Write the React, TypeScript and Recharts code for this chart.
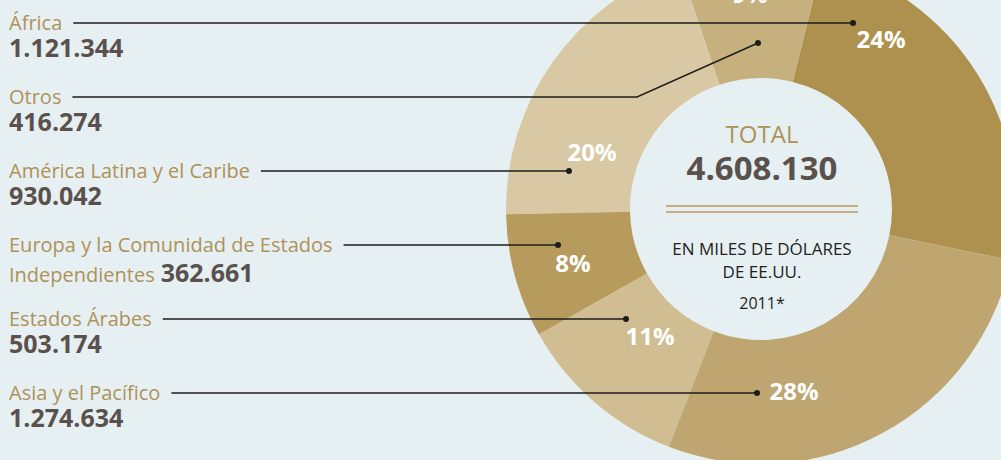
import React from 'react';
import { PieChart, Pie, Cell } from 'recharts';

// left list order, drawn counter-clockwise starting from Africa
const regionLines = [
  ['África'],
  ['Otros'],
  ['América Latina y el Caribe'],
  ['Europa y la Comunidad de Estados', 'Independientes'],
  ['Estados Árabes'],
  ['Asia y el Pacífico'],
];
const amounts = [1121344, 416274, 930042, 362661, 503174, 1274634];
const totalAmount = 4608130;
const sliceColors = ['#ae914e', '#c5b07e', '#d8c9a4', '#b69b5c', '#d0be92', '#bfa671'];

const centerTitle = 'TOTAL';
const centerNote = ['EN MILES DE DÓLARES', 'DE EE.UU.'];
const centerYear = '2011*';

const BG = '#e6eff2';
const GOLD = '#ae9258';
const DARK = '#5b514c';
const INK = '#1d1d1b';
const FONT = '"Open Sans", "Noto Sans", sans-serif';

const CX = 761;
const CY = 209;
const rowTop = 23;
const rowGap = 74;

// callout placement, offsets from the pie centre
const callouts = [
  { dx: 92, pct: [120, -170] },
  { dx: -3, dy: -166, bend: -124, pct: [-11, -215] },
  { dx: -192, pct: [-169, -57] },
  { dx: -203, pct: [-188, 54] },
  { dx: -135, pct: [-111, 127] },
  { dx: -4, pct: [33, 182] },
];

const fmt = (n: number) => String(n).replace(/\B(?=(\d{3})+(?!\d))/g, '.');

let ctx: CanvasRenderingContext2D | null = null;
const textWidth = (s: string, size: number) => {
  if (!ctx) ctx = document.createElement('canvas').getContext('2d');
  if (!ctx) return s.length * size * 0.5;
  ctx.font = `${size}px ${FONT}`;
  return ctx.measureText(s).width;
};

const data = amounts.map((v, i) => ({ name: regionLines[i].join(' '), value: v }));

const renderLabel = (props: any) => {
  const { cx, cy, index, percent } = props;
  const c = callouts[index];
  const rowY = rowTop + index * rowGap;
  const dotX = cx + c.dx;
  const dotY = c.dy !== undefined ? cy + c.dy : rowY;
  const bendX = c.bend !== undefined ? cx + c.bend : dotX;
  const lines = regionLines[index];
  const lineStart = 9 + textWidth(lines[0], 20) + 11;

  return (
    <g key={`lbl-${index}`} fontFamily={FONT}>
      <polyline
        points={`${lineStart},${rowY} ${bendX},${rowY} ${dotX},${dotY}`}
        fill="none"
        stroke={INK}
        strokeWidth={1.4}
      />
      <circle cx={dotX} cy={dotY} r={3} fill={INK} />
      <text x={9} y={rowY + 7} fontSize={20} fill={GOLD}>
        {lines[0]}
      </text>
      {lines.length > 1 ? (
        <text x={9} y={rowY + 37} fontSize={20} fill={GOLD}>
          {lines[1]}
          <tspan dx={6} fontSize={25} fontWeight={700} fill={DARK}>
            {fmt(amounts[index])}
          </tspan>
        </text>
      ) : (
        <text x={9} y={rowY + 34} fontSize={25} fontWeight={700} fill={DARK}>
          {fmt(amounts[index])}
        </text>
      )}
      <text
        x={cx + c.pct[0]}
        y={cy + c.pct[1] + 8.5}
        textAnchor="middle"
        fontSize={24}
        fontWeight={700}
        fill="#ffffff"
      >
        {Math.round(percent * 100)}%
      </text>
      {index === 0 && (
        <g>
          <text x={cx + 1} y={cy - 66} textAnchor="middle" fontSize={24} fill={GOLD}>
            {centerTitle}
          </text>
          <text x={cx + 1} y={cy - 29} textAnchor="middle" fontSize={33} fontWeight={700} fill={DARK}>
            {fmt(totalAmount)}
          </text>
          <line x1={cx - 95} x2={cx + 97} y1={cy - 3} y2={cy - 3} stroke="#b8995a" strokeWidth={1.3} />
          <line x1={cx - 95} x2={cx + 97} y1={cy + 3} y2={cy + 3} stroke="#b8995a" strokeWidth={1.3} />
          <text x={cx + 1} y={cy + 46} textAnchor="middle" fontSize={17} fill="#231f20">
            {centerNote[0]}
          </text>
          <text x={cx + 1} y={cy + 69} textAnchor="middle" fontSize={17} fill="#231f20">
            {centerNote[1]}
          </text>
          <text x={cx + 1} y={cy + 100} textAnchor="middle" fontSize={16} fill="#231f20">
            {centerYear}
          </text>
        </g>
      )}
    </g>
  );
};

export default function App() {
  return (
    <div
      style={{
        position: 'fixed',
        left: 0,
        top: 0,
        width: 1001,
        height: 460,
        background: BG,
        fontFamily: FONT,
        overflow: 'hidden',
      }}
    >
      <PieChart width={1001} height={460} margin={{ top: 0, right: 0, bottom: 0, left: 0 }}>
        <Pie
          data={data}
          dataKey="value"
          cx={CX}
          cy={CY}
          innerRadius={131}
          outerRadius={255}
          startAngle={-11.6}
          endAngle={348.4}
          stroke="none"
          isAnimationActive={false}
          label={renderLabel}
          labelLine={false}
        >
          {data.map((d, i) => (
            <Cell key={d.name} fill={sliceColors[i]} />
          ))}
        </Pie>
      </PieChart>
    </div>
  );
}
